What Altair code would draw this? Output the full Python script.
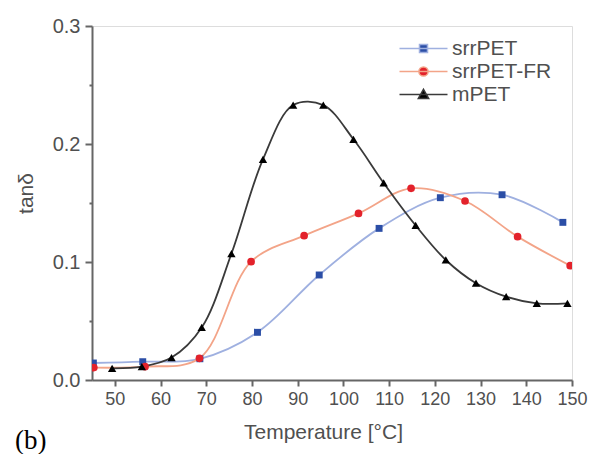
import altair as alt
import pandas as pd

series_names = ["srrPET", "srrPET-FR", "mPET"]

srr_T = [45.3, 56.1, 68.6, 81.2, 94.7, 107.8, 121.2, 134.7, 148.0]
srr_v = [0.0144, 0.0155, 0.018, 0.0404, 0.089, 0.1285, 0.1545, 0.157, 0.1336]

fr_T = [45.4, 56.6, 68.5, 79.8, 91.4, 103.3, 114.8, 126.6, 138.1, 149.6]
fr_v = [0.0105, 0.0113, 0.0184, 0.1003, 0.1223, 0.1412, 0.1624, 0.1517, 0.1215, 0.0969]

m_T = [49.4, 55.9, 62.4, 69.0, 75.5, 82.4, 89.0, 95.6, 102.2, 108.8, 115.8, 122.4, 129.0, 135.6, 142.3, 149.0]
m_v = [0.0099, 0.0113, 0.019, 0.0445, 0.107, 0.187, 0.233, 0.233, 0.204, 0.167, 0.131, 0.1017, 0.082, 0.0706, 0.065, 0.065]

line_colors = ["#9fb0e0", "#f3a488", "#3a3a3a"]
marker_colors = ["#2b4ea6", "#e3222b", "#000000"]
marker_shapes = ["square", "circle", "triangle-up"]
marker_sizes = [48, 70, 85]
legend_paths = [
    "M-6,0H6M-1,-1H1V1H-1Z",
    "M-6,0H6M1.15,0A1.15,1.15,0,1,1,-1.15,0A1.15,1.15,0,1,1,1.15,0Z",
    "M-6,0H6M0,-1.3L1.3,1L-1.3,1Z",
]

x_ticks = [50, 60, 70, 80, 90, 100, 110, 120, 130, 140, 150]
y_ticks = [0.0, 0.05, 0.1, 0.15, 0.2, 0.25, 0.3]

rows = []
for name, ts, vs in zip(series_names, [srr_T, fr_T, m_T], [srr_v, fr_v, m_v]):
    for t, v in zip(ts, vs):
        rows.append({"series": name, "T": t, "v": v})
df = pd.DataFrame(rows)
df_leg = pd.DataFrame({"lg": series_names})

W, H = 480, 354
FONT = "Liberation Sans"
GRAY = "#505050"

x_enc = alt.X(
    "T:Q",
    scale=alt.Scale(domain=[45, 150], nice=False, zero=False),
    axis=alt.Axis(
        values=x_ticks, title="Temperature [°C]", grid=False,
        labelOverlap=False, labelFlush=False,
        labelFontSize=18, labelColor=GRAY, labelFont=FONT, labelPadding=4,
        tickSize=6, tickWidth=2, tickColor="#666666",
        domainColor="#666666", domainWidth=2,
        titleFontSize=21, titleColor=GRAY, titleFont=FONT, titleFontWeight="normal",
        titleX=231, titleY=52, titleBaseline="middle", titleAlign="center",
    ),
)
y_enc = alt.Y(
    "v:Q",
    scale=alt.Scale(domain=[0, 0.3], nice=False, zero=True),
    axis=alt.Axis(
        values=y_ticks, title="tanδ", grid=False,
        labelOverlap=False, labelFlush=False,
        labelExpr="abs(datum.value*10 - round(datum.value*10)) > 0.01 ? '' : format(datum.value, '.1f')",
        labelFontSize=20, labelColor=GRAY, labelFont=FONT, labelPadding=5,
        tickSize={"expr": "abs(datum.value*10 - round(datum.value*10)) > 0.01 ? 3 : 7"},
        tickWidth=2, tickColor="#666666",
        domainColor="#666666", domainWidth=2,
        titleFontSize=21, titleColor=GRAY, titleFont=FONT, titleFontWeight="normal",
        titleX=-66, titleY=167, titleAngle=270, titleBaseline="middle", titleAlign="center",
    ),
)

lines = alt.Chart(df).mark_line(interpolate="catmull-rom", strokeWidth=1.8, clip=True).encode(
    x=x_enc, y=y_enc,
    stroke=alt.Stroke("series:N", scale=alt.Scale(domain=series_names, range=line_colors), legend=None),
)

points = alt.Chart(df).mark_point(filled=True, opacity=1, strokeWidth=0, clip=True).encode(
    x=x_enc, y=y_enc,
    fill=alt.Fill("series:N", scale=alt.Scale(domain=series_names, range=marker_colors), legend=None),
    shape=alt.Shape("series:N", scale=alt.Scale(domain=series_names, range=marker_shapes), legend=None),
    size=alt.Size("series:N", scale=alt.Scale(domain=series_names, range=marker_sizes), legend=None),
)

leg_props = dict(
    orient="none", legendX=321, legendY=12, title=None,
    labelFontSize=21, labelFont=FONT, labelColor=GRAY, labelOffset=18,
    symbolSize=64, symbolStrokeWidth=1.5, symbolOpacity=1, rowPadding=1, padding=0,
)
legend_layer = alt.Chart(df_leg).mark_point(filled=True, opacity=0).encode(
    x=alt.value(0), y=alt.value(0),
    fill=alt.Fill("lg:N", scale=alt.Scale(domain=series_names, range=marker_colors), legend=alt.Legend(**leg_props)),
    stroke=alt.Stroke("lg:N", scale=alt.Scale(domain=series_names, range=line_colors), legend=alt.Legend(**leg_props)),
    shape=alt.Shape("lg:N", scale=alt.Scale(domain=series_names, range=legend_paths), legend=alt.Legend(**leg_props)),
)

label_b = alt.Chart(pd.DataFrame({"t": ["(b)"]})).mark_text(
    font="Liberation Serif", fontSize=27, align="left", baseline="alphabetic", color="#000000"
).encode(x=alt.value(-77), y=alt.value(423), text="t:N")

chart = alt.layer(lines, points, legend_layer, label_b).resolve_scale(
    fill="independent", stroke="independent", shape="independent"
).properties(
    width=W, height=H, padding={"left": 7, "top": 8, "right": 5, "bottom": 0}
).configure_view(stroke="#666666", strokeWidth=2).configure(font=FONT)

chart.save("out.html", embed_options={"renderer": "svg", "actions": False})
